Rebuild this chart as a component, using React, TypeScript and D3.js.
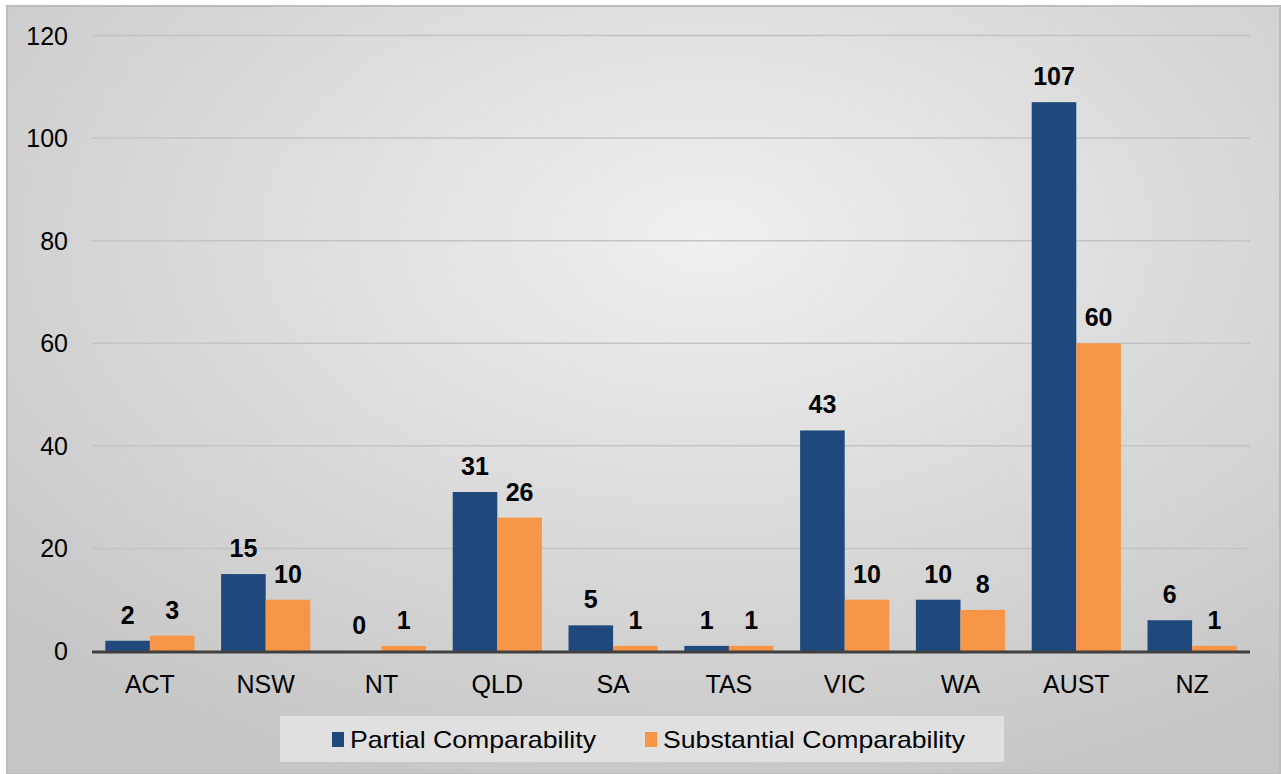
import React from "react";
import * as d3 from "d3";

const categories = ["ACT", "NSW", "NT", "QLD", "SA", "TAS", "VIC", "WA", "AUST", "NZ"];
const partial = [2, 15, 0, 31, 5, 1, 43, 10, 107, 6];
const substantial = [3, 10, 1, 26, 1, 1, 10, 8, 60, 1];
const seriesNames = ["Partial Comparability", "Substantial Comparability"];
const seriesColors = ["#1f497d", "#f79646"];
const yTicks = [0, 20, 40, 60, 80, 100, 120];

export default function App() {
  const W = 1281, H = 774;
  const x0 = d3.scaleBand<string>().domain(categories).range([92, 1250]).paddingInner(0.23).paddingOuter(0.115);
  const x1 = d3.scaleBand<number>().domain([0, 1]).range([0, x0.bandwidth()]);
  const y = d3.scaleLinear().domain([0, 120]).range([651, 35.5]);
  const series = [partial, substantial];
  const font = "Arial, 'Liberation Sans', sans-serif";
  return (
    <svg width={W} height={H} style={{ position: "absolute", left: 0, top: 0 }} fontFamily={font}>
      <defs>
        <radialGradient id="bg" cx="0.55" cy="0.3" r="0.75">
          <stop offset="0" stopColor="#f0f0f0" />
          <stop offset="1" stopColor="#c6c6c6" />
        </radialGradient>
      </defs>
      <rect x={7} y={6} width={W - 8} height={H - 6} fill="url(#bg)" stroke="#bcbcbc" strokeWidth={2} />
      {yTicks.map((t) => (
        <g key={t}>
          {t > 0 && <line x1={92} x2={1250} y1={y(t)} y2={y(t)} stroke="#c4c4c4" strokeWidth={1.5} />}
          <text x={68} y={y(t)} dy="0.36em" textAnchor="end" fontSize={25} fill="#000">{t}</text>
        </g>
      ))}
      {series.map((vals, si) =>
        vals.map((v, i) => {
          const bx = (x0(categories[i]) ?? 0) + (x1(si) ?? 0);
          const bw = x1.bandwidth();
          return (
            <g key={`${si}-${i}`}>
              <rect x={bx} y={y(v)} width={bw} height={y(0) - y(v)} fill={seriesColors[si]} />
              <text x={bx + bw / 2} y={y(v) - 17} textAnchor="middle" fontSize={25} fontWeight="bold" fill="#000">{v}</text>
            </g>
          );
        })
      )}
      <line x1={92} x2={1250} y1={y(0) + 1} y2={y(0) + 1} stroke="#404040" strokeWidth={3} />
      {categories.map((c) => (
        <text key={c} x={(x0(c) ?? 0) + x0.bandwidth() / 2} y={693} textAnchor="middle" fontSize={25} fill="#000">{c}</text>
      ))}
      <rect x={280} y={716} width={724} height={46} fill="#e0e0e0" />
      <rect x={332} y={732} width={12} height={15} fill={seriesColors[0]} />
      <text x={350} y={748} fontSize={24} fill="#000" textLength={246} lengthAdjust="spacingAndGlyphs">{seriesNames[0]}</text>
      <rect x={645} y={732} width={12} height={15} fill={seriesColors[1]} />
      <text x={663} y={748} fontSize={24} fill="#000" textLength={302} lengthAdjust="spacingAndGlyphs">{seriesNames[1]}</text>
    </svg>
  );
}
